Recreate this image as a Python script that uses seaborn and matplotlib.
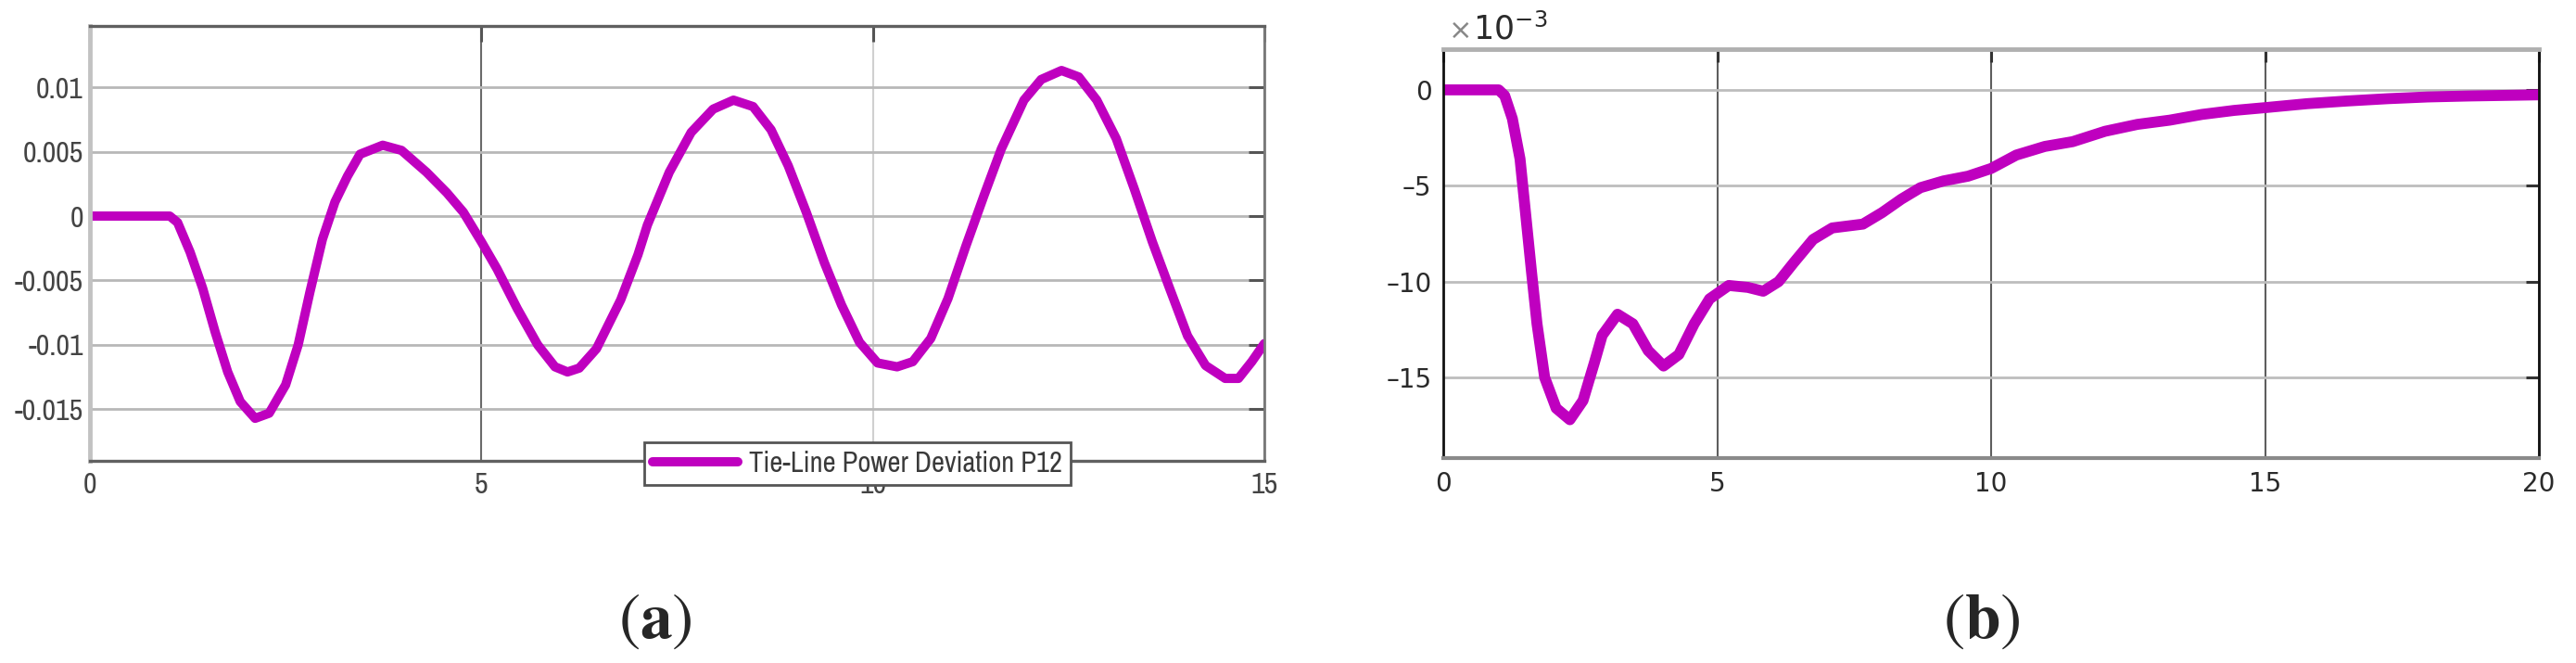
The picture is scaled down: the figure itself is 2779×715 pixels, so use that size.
import numpy as np
import pandas as pd
import matplotlib
matplotlib.use("Agg")
import matplotlib.pyplot as plt
import seaborn as sns
from matplotlib import font_manager
from matplotlib.font_manager import FontProperties

# (a) tie-line power deviation P12
t_a = [0, 1.02, 1.12, 1.28, 1.44, 1.60, 1.76, 1.92, 2.11, 2.29,
       2.50, 2.66, 2.81, 2.97, 3.13, 3.29, 3.45, 3.74, 3.98, 4.30,
       4.56, 4.77, 5.00, 5.20, 5.46, 5.72, 5.94, 6.10, 6.25, 6.47,
       6.78, 7.00, 7.12, 7.40, 7.68, 7.96, 8.22, 8.47, 8.70, 8.92,
       9.15, 9.38, 9.60, 9.83, 10.06, 10.31, 10.51, 10.74, 10.96, 11.19,
       11.42, 11.64, 11.93, 12.15, 12.41, 12.63, 12.86, 13.11, 13.34, 13.57,
       13.79, 14.02, 14.25, 14.50, 14.67, 14.84, 15.0]
p12_a = [0, 0, -0.0005, -0.0028, -0.0056, -0.0090, -0.0121, -0.0144, -0.0157, -0.0153,
         -0.0131, -0.0100, -0.0059, -0.0018, 0.0011, 0.0031, 0.0048, 0.0055, 0.0051, 0.0034,
         0.0018, 0.0003, -0.0020, -0.0041, -0.0072, -0.0100, -0.0117, -0.0121, -0.0118, -0.0103,
         -0.0065, -0.0030, -0.0007, 0.0034, 0.0065, 0.0083, 0.0090, 0.0085, 0.0067, 0.0039,
         0.0003, -0.0036, -0.0069, -0.0098, -0.0114, -0.0117, -0.0113, -0.0095, -0.0064, -0.0023,
         0.0016, 0.0052, 0.0090, 0.0106, 0.0113, 0.0108, 0.0090, 0.0060, 0.0021, -0.0020,
         -0.0056, -0.0093, -0.0116, -0.0126, -0.0126, -0.0113, -0.0099]
xticks_a = [0, 5, 10, 15]
yticks_a = [-0.015, -0.01, -0.005, 0, 0.005, 0.01]
ylabels_a = ["-0.015", "-0.01", "-0.005", "0", "0.005", "0.01"]

# (b) values in units of 1e-3
t_b = [0, 1.01, 1.12, 1.26, 1.40, 1.50, 1.61, 1.71, 1.85, 2.06,
       2.31, 2.55, 2.76, 2.90, 3.18, 3.46, 3.74, 4.02, 4.30, 4.58,
       4.86, 5.21, 5.56, 5.84, 6.12, 6.40, 6.75, 7.10, 7.66, 8.01,
       8.36, 8.71, 9.13, 9.58, 10.0, 10.46, 10.98, 11.49, 12.08, 12.67,
       13.26, 13.85, 14.44, 14.99, 15.77, 16.5, 17.24, 17.97, 18.71, 20.0]
p12_b = [0, 0, -0.3, -1.5, -3.6, -6.4, -9.5, -12.2, -15.0, -16.6,
         -17.2, -16.2, -14.2, -12.8, -11.7, -12.2, -13.6, -14.4, -13.8, -12.2,
         -10.9, -10.2, -10.3, -10.5, -10.0, -9.0, -7.8, -7.2, -7.0, -6.4,
         -5.7, -5.1, -4.75, -4.5, -4.1, -3.4, -2.95, -2.7, -2.16, -1.8,
         -1.58, -1.28, -1.07, -0.93, -0.72, -0.58, -0.46, -0.37, -0.32, -0.26]
xticks_b = [0, 5, 10, 15, 20]
yticks_b = [-15, -10, -5, 0]

MAG = "#bf00bf"

sns.set_style("white")
plt.rcParams["font.family"] = ["Liberation Sans", "DejaVu Sans"]
plt.rcParams["mathtext.fontset"] = "stix"


def find_font(pred):
    for f in font_manager.fontManager.ttflist:
        if pred(f):
            return f.fname
    return None


# panel (a) uses a narrow sans, like the source figure
narrow_path = (find_font(lambda f: "Narrow" in f.name and f.style == "normal"
                         and f.weight in (400, "normal", "regular"))
               or find_font(lambda f: "condensed" in str(f.stretch) and f.style == "normal"
                            and f.weight in (400, "normal", "regular")))
if narrow_path:
    fp_a = FontProperties(fname=narrow_path, size=23)
    leg_fp = FontProperties(fname=narrow_path, size=22)
else:
    fp_a = FontProperties(family="Liberation Sans", size=19)
    leg_fp = FontProperties(family="Liberation Sans", size=18)
fp_b = FontProperties(family="DejaVu Sans", size=20)

fig = plt.figure(figsize=(27.79, 7.15), dpi=100)

# ---- panel (a)
ax_a = fig.add_axes([0.0349, 0.3049, 0.4559, 0.6562])
df_a = pd.DataFrame({"t": t_a, "p": p12_a})
sns.lineplot(data=df_a, x="t", y="p", ax=ax_a, color=MAG, linewidth=7.2,
             estimator=None, sort=False, label="Tie-Line Power Deviation P12")
ax_a.lines[0].set_solid_joinstyle("round")
ax_a.set_xlim(0, 15)
ax_a.set_ylim(-0.0190, 0.01477)
ax_a.set_xticks(xticks_a)
ax_a.set_xticklabels([str(x) for x in xticks_a], fontproperties=fp_a, color="#444444")
ax_a.set_yticks(yticks_a)
ax_a.set_yticklabels(ylabels_a, fontproperties=fp_a, color="#444444")
ax_a.set_xlabel("")
ax_a.set_ylabel("")
ax_a.grid(True, axis="y", color="#b8b8b8", linewidth=2)
ax_a.grid(True, axis="x", color="#6a6a6a", linewidth=1.5)
ax_a.get_xgridlines()[2].set_color("#d0d0d0")
ax_a.tick_params(axis="both", which="both", direction="in", top=True, right=True,
                 length=12, width=2.2, color="#555555")
ax_a.tick_params(axis="x", pad=9)
ax_a.tick_params(axis="y", pad=5)
for side in ["top", "bottom"]:
    ax_a.spines[side].set_color("#606060")
    ax_a.spines[side].set_linewidth(2.4)
ax_a.spines["left"].set_color("#c2c2c2")
ax_a.spines["left"].set_linewidth(3.5)
ax_a.spines["right"].set_color("#7a7a7a")
ax_a.spines["right"].set_linewidth(2)
leg = ax_a.legend(loc="center", bbox_to_anchor=(0.6535, -0.006), frameon=True, fancybox=False,
                  framealpha=1, edgecolor="#555555", handlelength=3.0, borderpad=0.3,
                  handletextpad=0.4, borderaxespad=0, prop=leg_fp)
leg.get_frame().set_linewidth(2)
for txt in leg.get_texts():
    txt.set_color("#3a3a3a")

# ---- panel (b)
ax_b = fig.add_axes([0.5603, 0.3091, 0.4253, 0.6161])
df_b = pd.DataFrame({"t": t_b, "p": p12_b})
sns.lineplot(data=df_b, x="t", y="p", ax=ax_b, color=MAG, linewidth=8.5,
             estimator=None, sort=False, legend=False)
ax_b.lines[0].set_solid_joinstyle("round")
ax_b.set_xlim(0, 20)
ax_b.set_ylim(-19.2, 2.1)
ax_b.set_xticks(xticks_b)
ax_b.set_xticklabels([str(x) for x in xticks_b], fontproperties=fp_b, color="#2a2a2a")
ax_b.set_yticks(yticks_b)
ax_b.set_yticklabels([str(y).replace("-", "\u2013") for y in yticks_b],
                     fontproperties=fp_b, color="#2a2a2a")
ax_b.set_xlabel("")
ax_b.set_ylabel("")
ax_b.grid(True, axis="y", color="#bdbdbd", linewidth=2)
ax_b.grid(True, axis="x", color="#5e5e5e", linewidth=1.5)
ax_b.tick_params(axis="both", which="both", direction="in", top=True, right=True,
                 length=10, width=2.2, color="#333333")
ax_b.tick_params(axis="x", pad=10)
ax_b.tick_params(axis="y", pad=9)
ax_b.spines["top"].set_color("#b0b0b0")
ax_b.spines["top"].set_linewidth(3.5)
ax_b.spines["bottom"].set_color("#8a8a8a")
ax_b.spines["bottom"].set_linewidth(3)
ax_b.spines["left"].set_color("#111111")
ax_b.spines["left"].set_linewidth(2)
ax_b.spines["right"].set_color("#111111")
ax_b.spines["right"].set_linewidth(2)
ax_b.text(0.005, 1.012, "\u00d7", transform=ax_b.transAxes, ha="left", va="bottom",
          fontsize=22, color="#888888", family="DejaVu Sans")
ax_b.text(0.027, 1.012, r"10$^{\mathregular{-3}}$", transform=ax_b.transAxes,
          ha="left", va="bottom", fontsize=25, color="#2a2a2a", family="DejaVu Sans")

# panel letters
fig.text(0.2544, 0.063, r"$(\mathbf{a})$", ha="center", va="center", fontsize=50)
fig.text(0.7693, 0.063, r"$(\mathbf{b})$", ha="center", va="center", fontsize=50)

fig.savefig("out.png", dpi=100, facecolor="white")
